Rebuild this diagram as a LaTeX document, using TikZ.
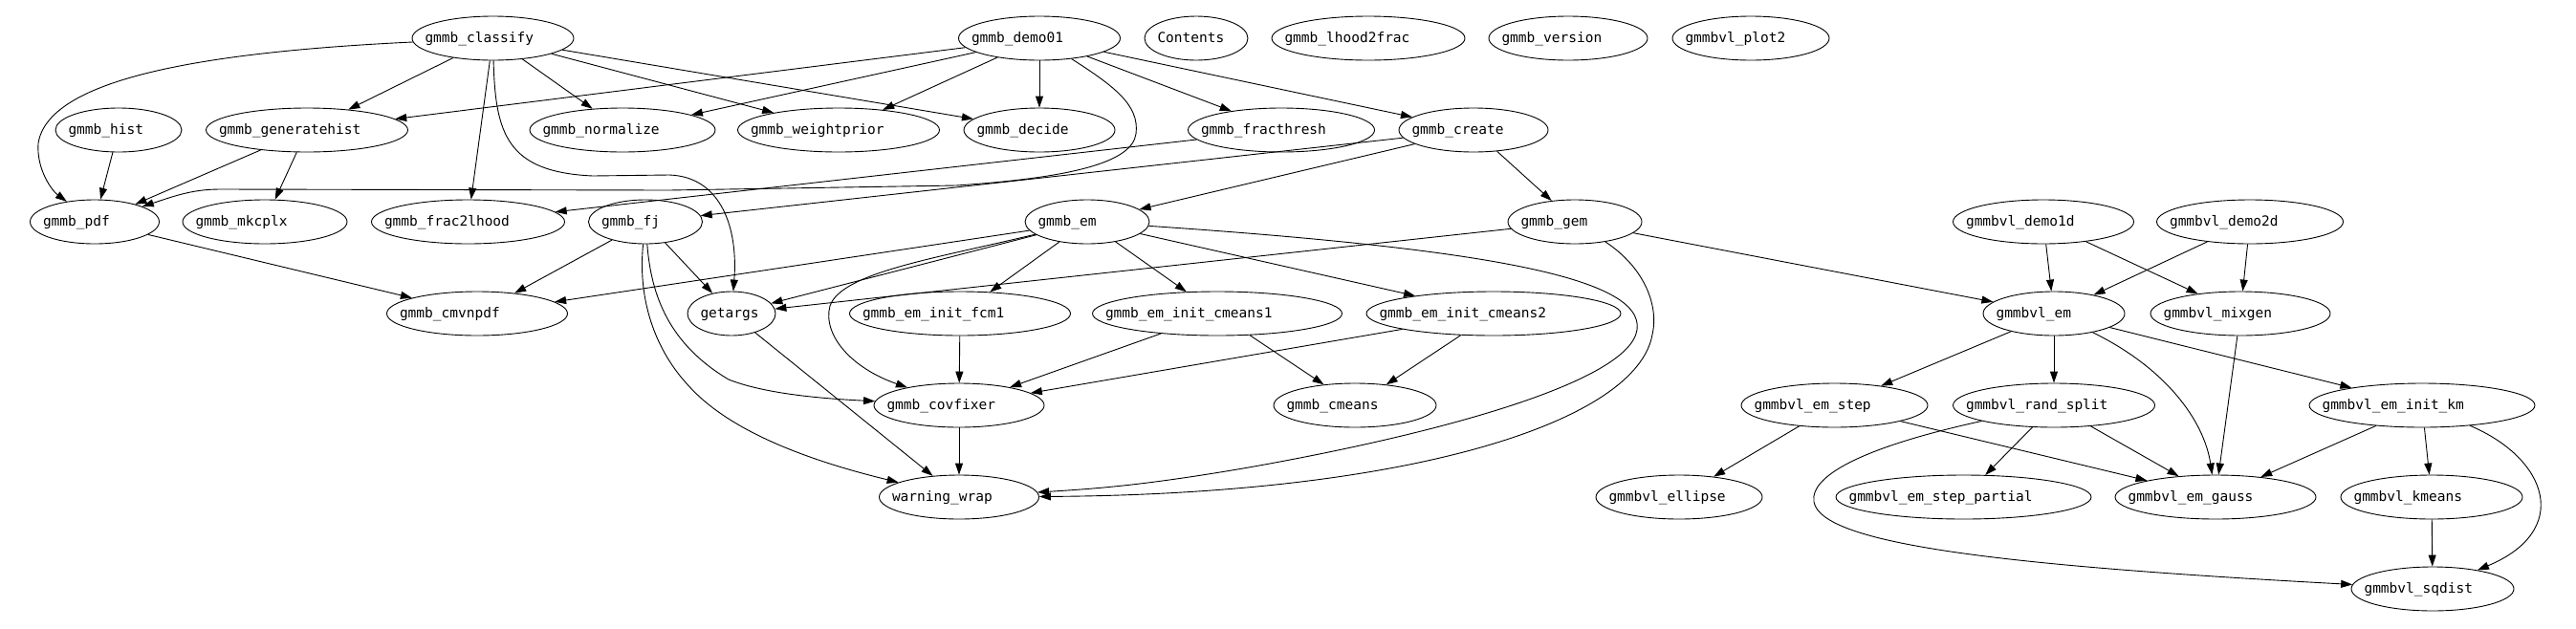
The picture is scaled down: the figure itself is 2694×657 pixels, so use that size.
\documentclass[tikz,border=0pt]{standalone}
\usepackage{fontspec}
\setmonofont{DejaVu Sans Mono}
\usetikzlibrary{shapes.geometric,arrows.meta}
\newcommand\gnd[5]{\node[gnode,minimum width=#4pt] (#1) at (#2,#3) {\hbox to 0pt{\hskip\dimexpr 13.5pt-#4pt/2\relax #5\hss}};}
\tikzset{
  gnode/.style={ellipse,draw,line width=0.9pt,minimum height=46pt,inner sep=0pt,
    font=\ttfamily\fontsize{14.5}{17}\selectfont,text height=11pt,text depth=3pt},
  dep/.style={line width=0.9pt,-{Triangle[length=12pt,width=8pt]}}
}
\begin{document}
\begin{tikzpicture}[x=1pt,y=-1pt]
\path[use as bounding box,fill=white] (0,0) rectangle (2694,657);
% rank 0
\gnd{classify}{515.5}{40}{169}{gmmb\_classify}
\gnd{demo01}{1087}{40}{169}{gmmb\_demo01}
\gnd{contents}{1251}{40}{108}{Contents}
\gnd{lhoodfrac}{1431}{40}{202}{gmmb\_lhood2frac}
\gnd{version}{1640}{40}{166}{gmmb\_version}
\gnd{plot2}{1831}{40}{164}{gmmbvl\_plot2}
% rank 1
\gnd{hist}{124}{136}{132}{gmmb\_hist}
\gnd{generatehist}{321}{136}{211}{gmmb\_generatehist}
\gnd{normalize}{651}{136}{194}{gmmb\_normalize}
\gnd{weightprior}{877}{136}{211}{gmmb\_weightprior}
\gnd{decide}{1087}{136}{158}{gmmb\_decide}
\gnd{fracthresh}{1340}{136}{195}{gmmb\_fracthresh}
\gnd{create}{1541}{136}{156}{gmmb\_create}
% rank 2
\gnd{pdf}{99}{232}{135}{gmmb\_pdf}
\gnd{mkcplx}{277}{232}{172}{gmmb\_mkcplx}
\gnd{fractolhood}{489.5}{232}{202}{gmmb\_frac2lhood}
\gnd{fj}{675}{232}{119}{gmmb\_fj}
\gnd{em}{1137}{232}{130}{gmmb\_em}
\gnd{gem}{1647}{232}{140}{gmmb\_gem}
\gnd{demoa}{2137}{232}{189}{gmmbvl\_demo1d}
\gnd{demob}{2353}{232}{195}{gmmbvl\_demo2d}
% rank 3
\gnd{cmvnpdf}{499}{328}{189}{gmmb\_cmvnpdf}
\gnd{getargs}{765}{328}{92}{getargs}
\gnd{fcm}{1004}{328}{231}{gmmb\_em\_init\_fcm1}
\gnd{cmeansa}{1273}{328}{261}{gmmb\_em\_init\_cmeans1}
\gnd{cmeansb}{1562}{328}{266}{gmmb\_em\_init\_cmeans2}
\gnd{vem}{2148}{328}{148}{gmmbvl\_em}
\gnd{mixgen}{2343}{328}{188}{gmmbvl\_mixgen}
% rank 4
\gnd{covfixer}{1003}{424}{178}{gmmb\_covfixer}
\gnd{cmeans}{1417}{424}{170}{gmmb\_cmeans}
\gnd{emstep}{1918.5}{424}{195}{gmmbvl\_em\_step}
\gnd{randsplit}{2148}{424}{211}{gmmbvl\_rand\_split}
\gnd{initkm}{2533}{424}{236}{gmmbvl\_em\_init\_km}
% rank 5
\gnd{warn}{1003}{520}{167}{warning\_wrap}
\gnd{ellipse}{1756}{520}{174}{gmmbvl\_ellipse}
\gnd{partial}{2053.5}{520}{267}{gmmbvl\_em\_step\_partial}
\gnd{gauss}{2317}{520}{210}{gmmbvl\_em\_gauss}
\gnd{kmeans}{2543}{520}{190}{gmmbvl\_kmeans}
% rank 6
\gnd{sqdist}{2544}{616}{170}{gmmbvl\_sqdist}

% gmmb_classify
\draw[dep] (classify) .. controls (200,55) and (50,85) .. (40,150) .. controls (38,178) and (55,200) .. (pdf);
\draw[dep] (classify) -- (generatehist);
\draw[dep] (classify) -- (normalize);
\draw[dep] (classify) -- (weightprior);
\draw[dep] (classify) -- (decide);
\draw[dep] (classify) -- (fractolhood);
\draw[dep] (classify) .. controls (518,140) and (530,180) .. (620,184) -- (700,183) .. controls (755,185) and (772,240) .. (getargs);
% gmmb_demo01
\draw[dep] (demo01) -- (generatehist);
\draw[dep] (demo01) -- (normalize);
\draw[dep] (demo01) -- (weightprior);
\draw[dep] (demo01) -- (decide);
\draw[dep] (demo01) -- (fracthresh);
\draw[dep] (demo01) -- (create);
\draw[dep] (demo01) .. controls (1165,90) and (1192,110) .. (1188,140) .. controls (1184,170) and (1120,186) .. (1000,194) -- (700,199) -- (230,198) .. controls (200,198) and (180,206) .. (pdf);
% rank 1 sources
\draw[dep] (hist) -- (pdf);
\draw[dep] (generatehist) -- (pdf);
\draw[dep] (generatehist) -- (mkcplx);
\draw[dep] (fracthresh) -- (fractolhood);
\draw[dep] (create) -- (fj);
\draw[dep] (create) -- (em);
\draw[dep] (create) -- (gem);
% rank 2 sources
\draw[dep] (pdf) -- (cmvnpdf);
\draw[dep] (fj) -- (cmvnpdf);
\draw[dep] (fj) -- (getargs);
\draw[dep] (fj) .. controls (681,310) and (700,360) .. (762,397) .. controls (800,412) and (860,417) .. (covfixer);
\draw[dep] (fj) .. controls (666,320) and (690,370) .. (717,400) .. controls (755,445) and (830,478) .. (warn);
\draw[dep] (em) -- (cmvnpdf);
\draw[dep] (em) -- (getargs);
\draw[dep] (em) .. controls (980,270) and (880,285) .. (868,320) .. controls (860,350) and (890,385) .. (covfixer);
\draw[dep] (em) -- (fcm);
\draw[dep] (em) -- (cmeansa);
\draw[dep] (em) -- (cmeansb);
\draw[dep] (em) .. controls (1550,260) and (1720,290) .. (1712,345) .. controls (1704,400) and (1500,455) .. (1300,490) .. controls (1200,507) and (1150,511) .. (warn);
\draw[dep] (gem) -- (getargs);
\draw[dep] (gem) .. controls (1720,280) and (1735,320) .. (1728,350) .. controls (1712,440) and (1480,517) .. (warn);
\draw[dep] (gem) -- (vem);
% rank 3 sources
\draw[dep] (fcm) -- (covfixer);
\draw[dep] (cmeansa) -- (covfixer);
\draw[dep] (cmeansa) -- (cmeans);
\draw[dep] (cmeansb) -- (covfixer);
\draw[dep] (cmeansb) -- (cmeans);
\draw[dep] (covfixer) -- (warn);
\draw[dep] (getargs) -- (warn);
% gmmbvl
\draw[dep] (demoa) -- (vem);
\draw[dep] (demoa) -- (mixgen);
\draw[dep] (demob) -- (vem);
\draw[dep] (demob) -- (mixgen);
\draw[dep] (vem) -- (emstep);
\draw[dep] (vem) -- (randsplit);
\draw[dep] (vem) .. controls (2265,385) and (2305,440) .. (gauss);
\draw[dep] (vem) -- (initkm);
\draw[dep] (mixgen) -- (gauss);
\draw[dep] (emstep) -- (ellipse);
\draw[dep] (emstep) -- (gauss);
\draw[dep] (randsplit) -- (partial);
\draw[dep] (randsplit) -- (gauss);
\draw[dep] (randsplit) .. controls (1960,465) and (1892,495) .. (1897,525) .. controls (1905,570) and (2100,592) .. (sqdist);
\draw[dep] (initkm) -- (gauss);
\draw[dep] (initkm) -- (kmeans);
\draw[dep] (initkm) .. controls (2665,480) and (2690,555) .. (sqdist);
\draw[dep] (kmeans) -- (sqdist);
\end{tikzpicture}
\end{document}
